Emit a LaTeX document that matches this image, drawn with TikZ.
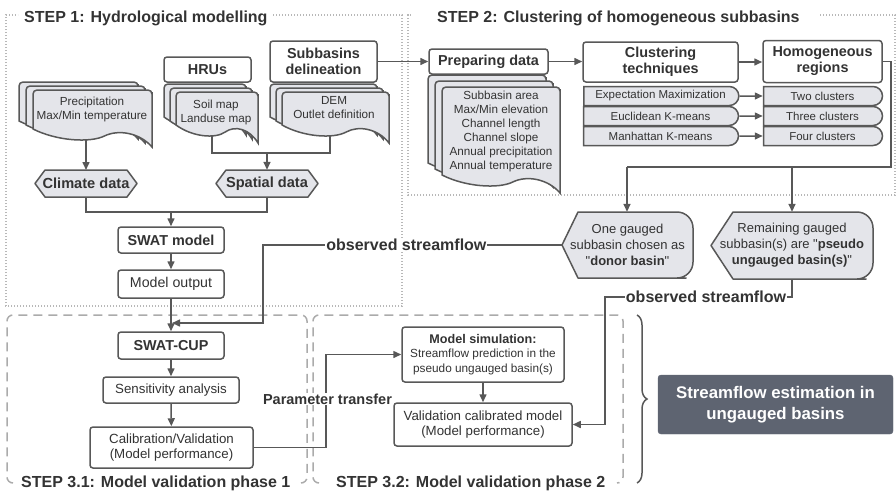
\documentclass[tikz,border=0pt]{standalone}
\usepackage{fontspec}
\setmainfont{Liberation Sans}
\usetikzlibrary{arrows.meta,calc,shapes.misc,decorations.pathreplacing}

\definecolor{linec}{HTML}{585858}
\definecolor{fillc}{HTML}{E4E5EA}
\definecolor{textc}{HTML}{333333}
\definecolor{framec}{HTML}{B8B8B8}
\definecolor{dashc}{HTML}{ABABAB}
\definecolor{darkc}{HTML}{5E6471}

% one sheet of a document stack: x1,y1 (top left), x2,y2 (bottom right)
\newcommand{\docsheet}[4]{%
  \path[sheet] (#1,#4-18) -- (#1,#2+6) [rounded corners=4pt] -- (#1,#2) -- (#3,#2) -- (#3,#2+6) [sharp corners] -- (#3,#4)
    .. controls ({#3-0.1*(#3-#1)},{#4-14}) and ({#1+0.72*(#3-#1)},{#4-18}) .. ({#1+0.6*(#3-#1)},{#4-11})
    .. controls ({#1+0.48*(#3-#1)},{#4-4}) and ({#1+0.2*(#3-#1)},{#4-6}) .. (#1,#4-18) -- cycle;}
\newcommand{\docstack}[6]{%
  \foreach \d in {2,1,0}{\begin{scope}[shift={(-#5*\d,-#6*\d)}]\docsheet{#1}{#2}{#3}{#4}\end{scope}}}

\begin{document}
\begin{tikzpicture}[x=1pt,y=-1pt,
  box/.style={draw=linec,line width=1.5pt,fill=white,rounded corners=3pt,text=textc,align=center,inner sep=0pt},
  sheet/.style={draw=linec,fill=fillc,line width=1.5pt},
  shapeline/.style={draw=linec,fill=fillc,line width=1.5pt,line join=round},
  pill/.style={shape=rounded rectangle,rounded rectangle left arc=none,draw=linec,fill=fillc,line width=1.5pt,
    text=textc,inner sep=0pt,minimum height=19,font=\fontsize{11.5}{13}\selectfont},
  conn/.style={draw=linec,line width=1.5pt},
  arr/.style={conn,-{Triangle[length=8pt,width=7pt]}},
  dotframe/.style={draw=framec,line width=1.2pt,dash pattern=on 1.2pt off 1.8pt},
  dashframe/.style={draw=dashc,line width=1.5pt,dash pattern=on 9pt off 6pt,rounded corners=6pt},
  steptitle/.style={font=\fontsize{16}{19}\selectfont\bfseries,text=textc,inner sep=1pt,anchor=west},
  flowlabel/.style={font=\fontsize{16}{19}\selectfont\bfseries,text=textc,fill=white,inner sep=1pt},
  headtext/.style={font=\fontsize{14.4}{16}\selectfont\bfseries},
  bodytext/.style={font=\fontsize{14.2}{16}\selectfont},
  midtext/.style={font=\fontsize{13.3}{15.5}\selectfont},
  txt/.style={text=textc,align=center,inner sep=0pt,font=\fontsize{11.7}{14}\selectfont},
  hexlabel/.style={text=textc,inner sep=0pt,minimum height=27,font=\fontsize{14.6}{16}\selectfont\bfseries}
]
\useasboundingbox (0,0) rectangle (896,493);

% frames of the steps
\draw[dotframe] (273,15) -| (402,306) -| (6,15) -- (18,15);
\node[steptitle] (step1) at (23,18) {STEP 1: Hydrological modelling};
\draw[dotframe] (820,15) -| (895,195) -| (408,15) -- (412,15);
\node[steptitle] (step2) at (436,18) {STEP 2: Clustering of homogeneous subbasins};
\draw[dashframe] (13,483) -- (7,483) -- (7,315) -- (307,315) -- (307,483) -- (301,483);
\node[steptitle] (step31) at (20,483) {STEP 3.1: Model validation phase 1};
\draw[dashframe] (319,483) -- (313,483) -- (313,315) -- (623,315) -- (623,483) -- (617,483);
\node[steptitle] (step32) at (335,483) {STEP 3.2: Model validation phase 2};

% step 1
\coordinate (precb) at (86,130);
\coordinate (hrub) at (212,128);
\coordinate (subb) at (330,128);
\coordinate (spjoin) at (267,153);
\draw[arr] (precb) -- (86,170);
\draw[conn] (hrub) |- (spjoin) -| (subb);
\docstack{33}{90}{152}{147}{7}{4}
\docstack{176}{92}{258}{143}{6}{4}
\docstack{282}{92}{389}{143}{6}{4}
\node[txt] (precip) at (92,109) {Precipitation\\Max/Min temperature};
\node[txt] (maps) at (216,112) {Soil map\\Landuse map};
\node[txt] (dem) at (334,108) {DEM\\Outlet definition};
\node[box,headtext,minimum width=87,minimum height=25] (hru) at (207.5,69.5) {HRUs};
\node[box,headtext,minimum width=107,minimum height=41] (sub) at (323.5,61.5) {Subbasins\\delineation};

\path[shapeline] (45,170) -- (127,170) -- (137,183.5) -- (127,197) -- (45,197) -- (35,183.5) -- cycle;
\node[hexlabel,minimum width=102] (climate) at (86,183.5) {Climate data};
\path[shapeline] (226,170) -- (308,170) -- (318,183.5) -- (308,197) -- (226,197) -- (216,183.5) -- cycle;
\node[hexlabel,minimum width=102] (spatial) at (267,183.5) {Spatial data};
\draw[arr] (spjoin) -- (spatial.north);

\coordinate (swjoin) at (171,212);
\draw[conn] (climate.south) |- (swjoin) -| (spatial.south);
\node[box,headtext,minimum width=106,minimum height=26] (swat) at (171,240) {SWAT model};
\node[box,bodytext,minimum width=106,minimum height=28] (output) at (171,284) {Model output};
\draw[arr] (swjoin) -- (swat.north);
\draw[arr] (swat) -- (output);

% step 3.1
\node[box,headtext,minimum width=106,minimum height=27] (swatcup) at (171,345.5) {SWAT-CUP};
\node[box,midtext,minimum width=136,minimum height=26] (sens) at (171,390) {Sensitivity analysis};
\node[box,midtext,minimum width=163,minimum height=41] (calib) at (171.5,447.5) {Calibration/Validation\\(Model performance)};
\draw[arr] (output) -- (swatcup);
\draw[arr] (swatcup) -- (sens);
\draw[arr] (sens) -- (calib);

% step 3.2
\node[box,minimum width=162,minimum height=55,font=\fontsize{11.8}{14.5}\selectfont] (modsim) at (483,354.5)
  {{\fontsize{12.6}{14.5}\selectfont\bfseries Model simulation:}\\Streamflow prediction in the\\pseudo ungauged basin(s)};
\node[box,midtext,minimum width=178,minimum height=43] (valid) at (483,424.5) {Validation calibrated model\\(Model performance)};
\draw[arr] (modsim) -- (valid);
\coordinate (ptx) at (326,400);
\draw[arr] (calib.east) -- (calib.east -| ptx) -- (ptx |- modsim.west) -- (modsim.west);
\node[flowlabel,font=\fontsize{14.5}{16}\selectfont\bfseries] (ptlabel) at (327.5,399) {Parameter transfer};

% step 2
\docstack{442}{87}{560}{193}{7}{6}
\node[txt] (attrs) at (501,131) {Subbasin area\\Max/Min elevation\\Channel length\\Channel slope\\Annual precipitation\\Annual temperature};
\node[box,headtext,minimum width=119,minimum height=25] (prep) at (488.5,61.5) {Preparing data};
\node[box,headtext,minimum width=155,minimum height=40] (clust) at (660.5,62) {Clustering\\techniques};
\node[box,headtext,minimum width=119,minimum height=42] (homog) at (822.5,61.5) {Homogeneous\\regions};
\draw[arr] (sub.east) -- (sub.east -| prep.west);
\draw[arr] (prep) -- (prep -| clust.west);
\draw[arr] (clust) -- (clust -| homog.west);
\foreach \n/\t/\y in {em/Expectation Maximization/96, euc/Euclidean K-means/116, man/Manhattan K-means/136}
  \node[pill,minimum width=155] (\n) at (660.5,\y) {\t};
\foreach \n/\t/\y in {two/Two clusters/96, three/Three clusters/116, four/Four clusters/136}
  \node[pill,minimum width=119] (\n) at (822.5,\y) {\t};
\foreach \a/\b in {em/two, euc/three, man/four}
  \draw[arr] (\a) -- (\b);

% gauged subbasins
\path[shapeline] (562,245) -- (578,212) -- (670,212) [rounded corners=16pt] -- (693,212) -- (693,278) -- (670,278) [sharp corners] -- (578,278) -- cycle;
\node[txt,minimum width=131,minimum height=66,font=\fontsize{13}{16}\selectfont] (donor) at (627.5,245)
  {One gauged\\subbasin chosen as\\\textquotedbl\textbf{donor basin}\textquotedbl};
\path[shapeline] (711,245.5) -- (733,212) -- (850,212) [rounded corners=16pt] -- (873,212) -- (873,279) -- (850,279) [sharp corners] -- (733,279) -- cycle;
\node[txt,minimum width=162,minimum height=67,font=\fontsize{13}{16}\selectfont] (pseudo) at (792,245.5)
  {Remaining gauged\\subbasin(s) are \textquotedbl\textbf{pseudo}\\\textbf{ungauged basin(s)}\textquotedbl};
\coordinate (djoin) at (627,167);
\coordinate (pjoin) at (792,167);
\draw[conn] (homog.east) -- ++(8,0) |- (djoin);
\draw[arr] (djoin) -- (djoin |- donor.north);
\draw[arr] (pjoin) -- (pjoin |- pseudo.north);

% observed streamflow
\coordinate (obs1) at (263,245);
\coordinate (obs1end) at (172,323);
\draw[arr] (donor.west) -- node[flowlabel,pos=0.52] {observed streamflow} (obs1) |- (obs1end);
\coordinate (obs2) at (605,297);
\draw[arr] (pseudo.south) |- node[flowlabel,pos=0.73] {observed streamflow} (obs2) |- (valid.east);

% result
\draw[conn,decorate,decoration={brace,amplitude=10pt}] (637,315) -- (637,483);
\node[draw=darkc,fill=darkc,rounded corners=3pt,text=white,align=center,inner sep=0pt,
  minimum width=235,minimum height=59,font=\fontsize{16.8}{21}\selectfont\bfseries] (estim) at (775.5,404.5)
  {Streamflow estimation in\\ungauged basins};
\end{tikzpicture}
\end{document}
